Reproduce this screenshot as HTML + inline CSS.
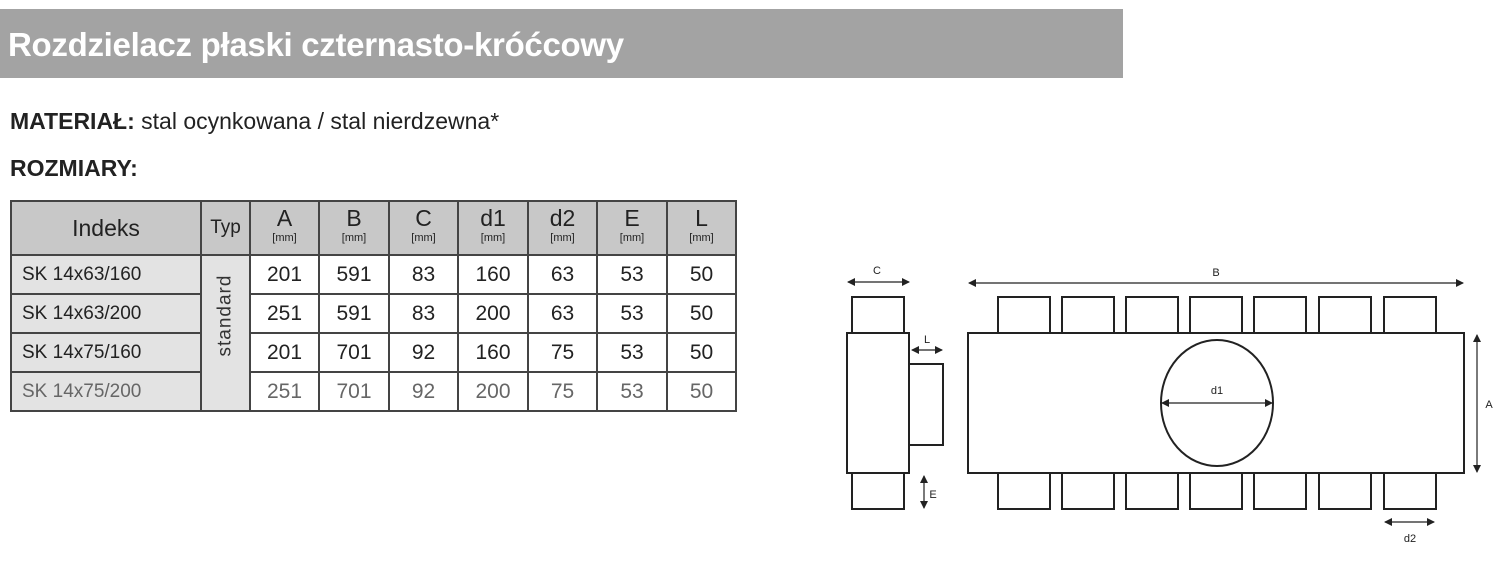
<!DOCTYPE html><html><head><style>
body{margin:0;width:1505px;height:577px;background:#fff;position:relative;font-family:"Liberation Sans",sans-serif;overflow:hidden}
.bar{position:absolute;left:0;top:9px;width:1123px;height:69px;background:#a3a3a3;color:#fff;font-size:33px;font-weight:bold;line-height:72px;padding-left:8px;box-sizing:border-box;letter-spacing:-0.3px}
.t{position:absolute;left:10px;font-size:23px;color:#222}
table{position:absolute;left:10px;top:200px;border-collapse:collapse;color:#222;table-layout:fixed;width:725px}
td{border:2px solid #444;text-align:center;font-size:21px;padding:0;height:37px;overflow:hidden;white-space:nowrap}
.h td{background:#c8c8c8;height:52px;font-size:23px;line-height:20px}
.h small{font-size:11px;display:block}
td.i{background:#e3e3e3;text-align:left;padding-left:10px;font-size:19px}
.g td{color:#666}
</style></head><body>
<div class="bar">Rozdzielacz płaski czternasto-króćcowy</div>
<div class="t" style="top:108px"><b>MATERIAŁ:</b> stal ocynkowana / stal nierdzewna*</div>
<div class="t" style="top:155px"><b>ROZMIARY:</b></div>
<table>
<colgroup><col style="width:190px"><col style="width:49px"><col style="width:69px"><col style="width:70px"><col style="width:69px"><col style="width:70px"><col style="width:69px"><col style="width:70px"><col style="width:69px"></colgroup>
<tr class="h"><td>Indeks</td><td style="font-size:19px">Typ</td><td>A<small>[mm]</small></td><td>B<small>[mm]</small></td><td>C<small>[mm]</small></td><td>d1<small>[mm]</small></td><td>d2<small>[mm]</small></td><td>E<small>[mm]</small></td><td>L<small>[mm]</small></td></tr>
<tr><td class="i">SK 14x63/160</td><td rowspan="4" style="background:#e3e3e3;overflow:visible"><div style="transform:rotate(-90deg);font-size:19px;letter-spacing:1px;color:#333">standard</div></td><td>201</td><td>591</td><td>83</td><td>160</td><td>63</td><td>53</td><td>50</td></tr>
<tr><td class="i">SK 14x63/200</td><td>251</td><td>591</td><td>83</td><td>200</td><td>63</td><td>53</td><td>50</td></tr>
<tr><td class="i">SK 14x75/160</td><td>201</td><td>701</td><td>92</td><td>160</td><td>75</td><td>53</td><td>50</td></tr>
<tr class="g"><td class="i" style="color:#666">SK 14x75/200</td><td>251</td><td>701</td><td>92</td><td>200</td><td>75</td><td>53</td><td>50</td></tr>
</table>
<svg width="1505" height="577" style="position:absolute;left:0;top:0" font-family="Liberation Sans,sans-serif" font-size="11" fill="none" stroke="#222" stroke-width="2">
<defs><marker id="a" markerWidth="8" markerHeight="8" refX="7" refY="4" orient="auto-start-reverse" markerUnits="userSpaceOnUse"><path d="M0,0L8,4L0,8z" fill="#222" stroke="none"/></marker></defs>
<rect x="852" y="297" width="52" height="36"/><rect x="847" y="333" width="62" height="140"/><rect x="909" y="364" width="34" height="81"/><rect x="852" y="473" width="52" height="36"/>
<rect x="968" y="333" width="496" height="140"/>
<g id="s"><rect x="998" y="297" width="52" height="36"/><rect x="1062" y="297" width="52" height="36"/><rect x="1126" y="297" width="52" height="36"/><rect x="1190" y="297" width="52" height="36"/><rect x="1254" y="297" width="52" height="36"/><rect x="1319" y="297" width="52" height="36"/><rect x="1384" y="297" width="52" height="36"/></g>
<use href="#s" y="176"/>
<ellipse cx="1217" cy="403" rx="56" ry="63"/>
<g stroke-width="1.2" marker-start="url(#a)" marker-end="url(#a)">
<line x1="848" y1="282" x2="909" y2="282"/><line x1="912" y1="350" x2="942" y2="350"/><line x1="924" y1="476" x2="924" y2="508"/>
<line x1="969" y1="283" x2="1463" y2="283"/><line x1="1162" y1="403" x2="1272" y2="403"/><line x1="1477" y1="335" x2="1477" y2="472"/><line x1="1385" y1="522" x2="1434" y2="522"/>
</g>
<g fill="#222" stroke="none" text-anchor="middle">
<text x="877" y="274">C</text><text x="927" y="343">L</text><text x="933" y="498">E</text><text x="1216" y="276">B</text><text x="1217" y="394">d1</text><text x="1489" y="408">A</text><text x="1410" y="542">d2</text>
</g>
</svg>
</body></html>
